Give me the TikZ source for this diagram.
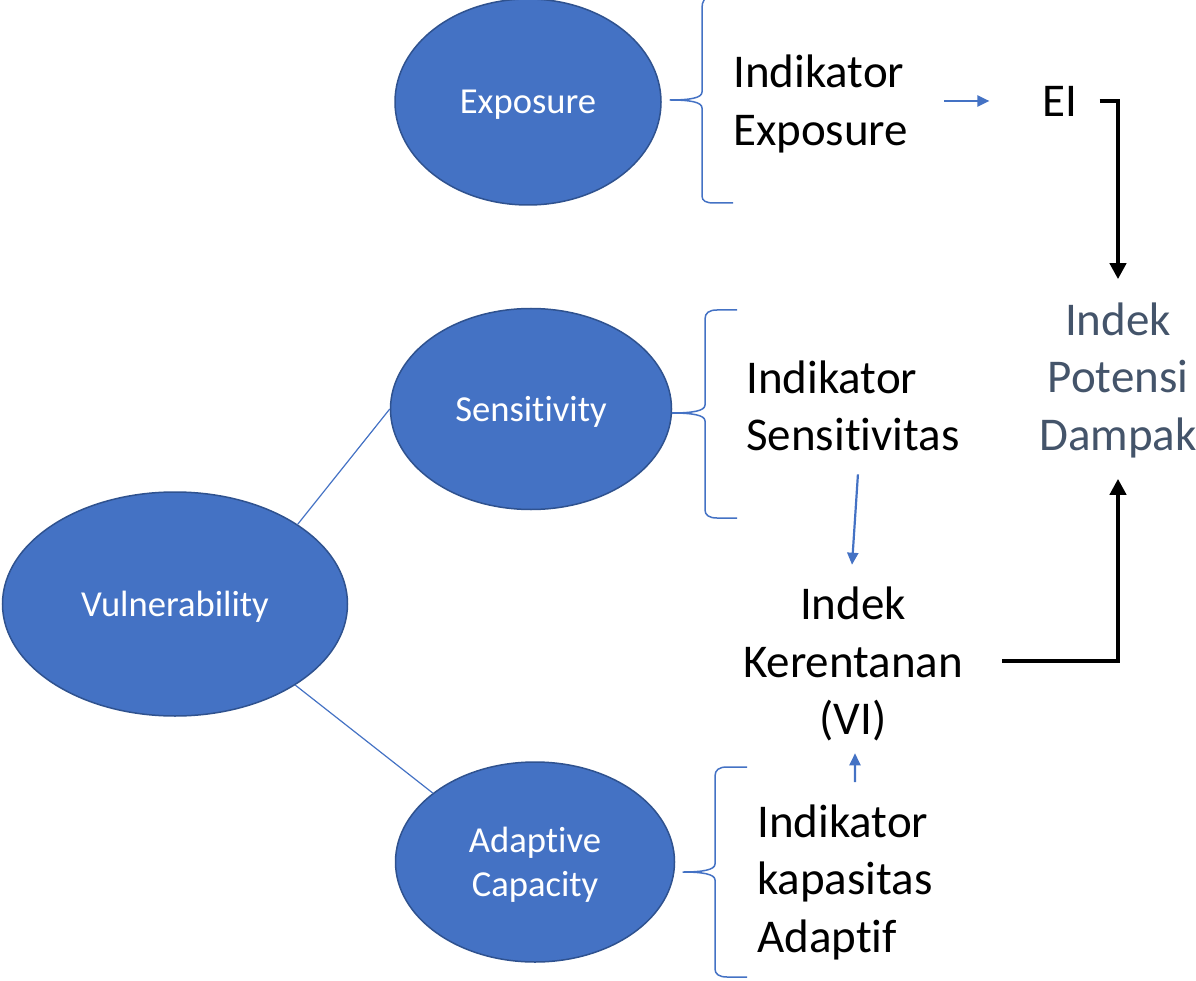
\documentclass[tikz,border=0pt]{standalone}
\usepackage{fontspec}
\setmainfont{Carlito}[Ligatures=NoCommon]
\usetikzlibrary{arrows.meta,shapes.geometric}
\definecolor{accent}{HTML}{4472C4}
\definecolor{rim}{HTML}{2F528F}
\definecolor{slate}{HTML}{44546A}
\begin{document}
\begin{tikzpicture}[x=1pt,y=-1pt,
  bubble/.style={ellipse, fill=accent, draw=rim, line width=1.5pt, inner sep=0pt,
    label={[text=white, font=\fontsize{36.6}{44}\selectfont, align=center,
      inner sep=0pt, yshift=-3pt]center:#1}},
  lbl/.style={font=\fontsize{47}{57.5}\selectfont, inner sep=0pt},
  link/.style={draw=accent, line width=1.2pt},
  brace/.style={draw=accent, line width=1.5pt, line join=round},
  bluearrow/.style={draw=accent, line width=2.2pt, -{Triangle[length=12pt,width=11pt]}},
  blackarrow/.style={draw=black, line width=4pt, -{Triangle[length=16pt,width=16pt]}}]
\useasboundingbox (0,0) rectangle (1196,981);

% ellipses
\node[bubble={Exposure}, minimum width=266pt, minimum height=206pt] (exp) at (528,102) {};
\node[bubble={Sensitivity}, minimum width=281pt, minimum height=201pt] (sen) at (531,409) {};
\node[bubble={Vulnerability}, minimum width=345pt, minimum height=224pt] (vul) at (175,604) {};
\node[bubble={Adaptive\\Capacity}, minimum width=279pt, minimum height=200pt] (ada) at (535,862) {};

% links from vulnerability
\draw[link] (vul.33) -- (sen.west);
\draw[link] (vul.-34) -- (ada.146);

% braces
\draw[brace] (733,-6) -- (714,-5) .. controls (704,-4) and (702,2) .. (702,8)
  -- (702,92) .. controls (702,98) and (690,100) .. (670,100)
  .. controls (690,100) and (702,102) .. (702,108)
  -- (702,196) .. controls (702,201) and (706,203) .. (714,203) -- (733,203);
\draw[brace] (737,310) -- (717,310) .. controls (709,310) and (705,313) .. (705,319)
  -- (705,405) .. controls (705,411) and (692,413) .. (672,413)
  .. controls (692,413) and (705,415) .. (705,421)
  -- (705,510) .. controls (705,515) and (709,518) .. (717,518) -- (737,518);
\draw[brace] (747,767) -- (727,767) .. controls (719,767) and (715,770) .. (715,776)
  -- (715,864) .. controls (715,870) and (702,872) .. (683,872)
  .. controls (702,872) and (715,874) .. (715,880)
  -- (715,969) .. controls (715,974) and (719,977) .. (727,977) -- (747,977);

% text labels
\node[lbl, align=left, anchor=west] (ie) at (733,104) {Indikator\\Exposure};
\node[lbl] (ei) at (1060,101) {EI};
\node[lbl, align=center, text=slate] (ipd) at (1118,380) {Indek\\Potensi\\Dampak};
\node[lbl, align=left, anchor=west] (is) at (746,406) {Indikator\\Sensitivitas};
\node[lbl, align=center] (ik) at (853,664) {Indek\\Kerentanan\\(VI)};
\node[lbl, align=left, anchor=west] (ia) at (757,882) {Indikator\\kapasitas\\Adaptif};

% blue arrows
\draw[bluearrow] ([xshift=-98pt]ei.west) -- ([xshift=-53pt]ei.west);
\draw[bluearrow] ([xshift=5pt,yshift=-23pt]is.south) -- ([xshift=-1pt,yshift=22pt]ik.north);
\draw[bluearrow] ([xshift=10pt,yshift=22pt]ia.north) -- ([xshift=2pt,yshift=-12pt]ik.south);

% black arrows into the impact index
\draw[blackarrow] ([xshift=22pt]ei.east) -| ([yshift=23pt]ipd.north);
\draw[blackarrow] ([xshift=39pt,yshift=3pt]ik.east) -| ([yshift=-21pt]ipd.south);
\end{tikzpicture}
\end{document}
